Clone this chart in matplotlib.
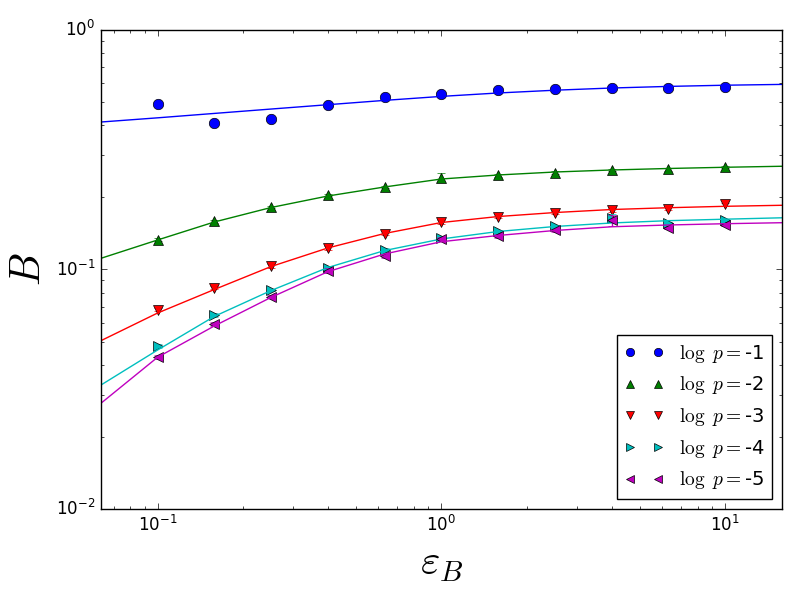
import numpy as np
import matplotlib
matplotlib.use('Agg')
import matplotlib.pyplot as plt

plt.style.use('classic')

# measured points
eps = [0.1, 0.158, 0.251, 0.398, 0.631, 1.0, 1.585, 2.512, 3.981, 6.31, 10.0]
B_p1 = [0.489, 0.409, 0.425, 0.484, 0.525, 0.538, 0.562, 0.567, 0.572, 0.572, 0.578]
B_p2 = [0.133, 0.159, 0.182, 0.204, 0.221, 0.242, 0.247, 0.254, 0.260, 0.262, 0.268]
B_p3 = [0.0678, 0.0841, 0.1034, 0.123, 0.1407, 0.1586, 0.1656, 0.1729, 0.1771, 0.1797, 0.1868]
B_p4 = [0.0479, 0.0646, 0.0821, 0.1019, 0.1206, 0.1354, 0.1441, 0.1512, 0.1641, 0.1564, 0.1609]
B_p5 = [0.0431, 0.0592, 0.0771, 0.099, 0.1138, 0.1347, 0.138, 0.1455, 0.1602, 0.149, 0.1541]

# error bars (mostly hidden under markers)
err_p1 = [0.004, 0.004, 0.004, 0.004, 0.004, 0.005, 0.004, 0.004, 0.004, 0.004, 0.004]
err_p2 = [0.002, 0.002, 0.002, 0.002, 0.003, 0.010, 0.003, 0.003, 0.003, 0.003, 0.003]
err_p3 = [0.001, 0.001, 0.002, 0.002, 0.002, 0.003, 0.002, 0.002, 0.003, 0.002, 0.002]
err_p4 = [0.001, 0.001, 0.001, 0.002, 0.002, 0.002, 0.002, 0.002, 0.006, 0.002, 0.002]
err_p5 = [0.001, 0.001, 0.001, 0.002, 0.002, 0.002, 0.002, 0.002, 0.009, 0.002, 0.002]

# fitted curves
eps_fit = [0.0631, 0.1, 0.1585, 0.2512, 0.3981, 0.631, 1.0, 1.585, 2.512, 3.981, 6.31, 10.0, 15.85]
fit_p1 = [0.4128, 0.4298, 0.4484, 0.4677, 0.4876, 0.5083, 0.5282, 0.5458, 0.5605, 0.5725, 0.5814, 0.5881, 0.5927]
fit_p2 = [0.1113, 0.1328, 0.1579, 0.1815, 0.2027, 0.2211, 0.2387, 0.2481, 0.2553, 0.2603, 0.2641, 0.2672, 0.2698]
fit_p3 = [0.0504, 0.0658, 0.0825, 0.1029, 0.1230, 0.1414, 0.1571, 0.1664, 0.1729, 0.1780, 0.1811, 0.1836, 0.1854]
fit_p4 = [0.0329, 0.0461, 0.0637, 0.0817, 0.1019, 0.1200, 0.1341, 0.1441, 0.1512, 0.1564, 0.1599, 0.1622, 0.1644]
fit_p5 = [0.0276, 0.0430, 0.0581, 0.0765, 0.0979, 0.1161, 0.1306, 0.1387, 0.1455, 0.1508, 0.1534, 0.1553, 0.1568]

logp = ['-1', '-2', '-3', '-4', '-5']
series = [B_p1, B_p2, B_p3, B_p4, B_p5]
errs = [err_p1, err_p2, err_p3, err_p4, err_p5]
fits = [fit_p1, fit_p2, fit_p3, fit_p4, fit_p5]
colors = ['b', 'g', 'r', 'c', 'm']
markers = ['o', '^', 'v', '>', '<']

fig = plt.figure(figsize=(8, 6), dpi=100)
ax = fig.add_subplot(111)
fig.subplots_adjust(left=0.126, right=0.9775, top=0.95, bottom=0.1517)

for B, e, f, c, m, lp in zip(series, errs, fits, colors, markers, logp):
    ax.errorbar(eps, B, yerr=e, fmt='none', ecolor=c)
    ax.plot(eps, B, m, color=c, markersize=7.5, label=r'$\log\ p=$' + lp)
    ax.plot(eps_fit, f, '-', color=c, lw=1)

ax.set_xscale('log')
ax.set_yscale('log')
ax.set_xlim(10**-1.2, 10**1.2)
ax.set_ylim(1e-2, 1)
ax.set_xlabel(r'$\varepsilon_B$', fontsize=30)
ax.set_ylabel(r'$B$', fontsize=30)

ax.legend(loc='lower right', numpoints=2, fontsize=14, markerscale=0.8)

fig.savefig('out.png', dpi=100)
